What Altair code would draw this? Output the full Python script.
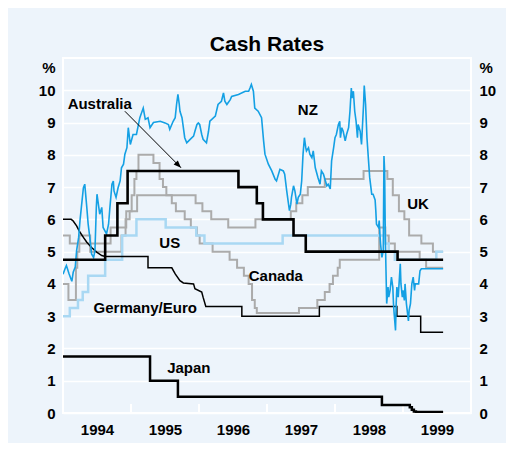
import altair as alt
import pandas as pd

# ---------------- data (decimal years, per cent) ----------------
aus_t = [1994.0, 1994.62, 1994.80, 1994.95, 1996.58, 1996.85, 1996.94, 1997.39, 1997.57, 1998.92, 1999.59]
aus_v = [4.75, 5.5, 6.5, 7.5, 7.0, 6.5, 6.0, 5.5, 5.0, 4.75, 4.75]

us_t = [1994.0, 1994.10, 1994.22, 1994.29, 1994.37, 1994.62, 1994.87, 1995.08, 1995.51, 1995.96,
        1996.08, 1997.23, 1998.74, 1998.79, 1998.88, 1999.49, 1999.59]
us_v = [3.0, 3.25, 3.5, 3.75, 4.25, 4.75, 5.5, 6.0, 5.75, 5.5,
        5.25, 5.5, 5.25, 5.0, 4.75, 5.0, 5.0]

uk_t = [1994.0, 1994.10, 1994.70, 1994.93, 1995.09, 1995.95, 1996.05, 1996.18, 1996.43, 1996.83,
        1997.35, 1997.43, 1997.52, 1997.60, 1997.85, 1998.42, 1998.77, 1998.85, 1998.94, 1999.02,
        1999.09, 1999.27, 1999.44, 1999.59]
uk_v = [5.5, 5.25, 5.75, 6.25, 6.75, 6.5, 6.25, 6.0, 5.75, 6.0,
        6.25, 6.5, 6.75, 7.0, 7.25, 7.5, 7.25, 6.75, 6.25, 6.0,
        5.5, 5.25, 5.0, 5.0]

can_t = [1994.0, 1994.08, 1994.19, 1994.21, 1994.24, 1994.40, 1994.86, 1994.92, 1994.98, 1995.01,
         1995.05, 1995.08, 1995.11, 1995.33, 1995.42, 1995.47, 1995.52, 1995.60, 1995.66, 1995.79,
         1995.88, 1995.97, 1996.01, 1996.20, 1996.45, 1996.56, 1996.66, 1996.73, 1996.78, 1996.82,
         1996.85, 1997.47, 1997.74, 1997.85, 1997.92, 1997.97, 1998.04, 1998.07, 1998.65, 1998.74,
         1998.79, 1998.88, 1999.245, 1999.34, 1999.59]
can_v = [4.0, 3.5, 4.5, 5.0, 5.5, 5.0, 5.5, 6.0, 6.25, 6.75,
         7.25, 7.5, 8.0, 7.75, 7.25, 7.0, 6.75, 6.5, 6.25, 6.0,
         5.75, 5.5, 5.25, 5.0, 4.75, 4.5, 4.25, 4.0, 3.5, 3.25,
         3.1, 3.25, 3.5, 3.75, 4.0, 4.25, 4.5, 4.75, 5.75, 5.5,
         5.25, 5.0, 4.75, 4.5, 4.5]

jpn_t = [1994.0, 1995.28, 1995.69, 1998.69, 1999.10, 1999.13, 1999.16, 1999.19, 1999.59]
jpn_v = [1.75, 1.0, 0.5, 0.25, 0.18, 0.10, 0.05, 0.03, 0.03]

ger_t = [1994.0, 1994.12, 1994.15, 1994.20, 1994.25, 1994.30, 1994.35, 1994.42, 1994.50, 1994.57,
         1994.62, 1995.25, 1995.25, 1995.60, 1995.65, 1995.72, 1995.77, 1995.92, 1995.94, 1996.04,
         1996.06, 1996.10, 1996.63, 1996.63, 1997.77, 1997.77, 1998.91, 1998.91, 1999.26, 1999.26,
         1999.59]
ger_v = [6.0, 6.0, 5.95, 5.8, 5.6, 5.44, 5.29, 5.13, 4.98, 4.88,
         4.85, 4.85, 4.5, 4.5, 4.31, 4.1, 4.03, 4.0, 3.85, 3.75,
         3.59, 3.3, 3.3, 3.0, 3.0, 3.3, 3.3, 3.0, 3.0, 2.5,
         2.5]

nz_t = [1994.00, 1994.03, 1994.05, 1994.09, 1994.13, 1994.15, 1994.18, 1994.20, 1994.23, 1994.25,
        1994.27, 1994.30, 1994.32, 1994.35, 1994.37, 1994.40, 1994.42, 1994.45, 1994.47, 1994.49,
        1994.50, 1994.52, 1994.54, 1994.57, 1994.59, 1994.64, 1994.67, 1994.69, 1994.72, 1994.74,
        1994.75, 1994.78, 1994.81, 1994.84, 1994.86, 1994.89, 1994.91, 1994.94, 1994.96, 1994.99,
        1995.03, 1995.08, 1995.13, 1995.18, 1995.21, 1995.25, 1995.28, 1995.33, 1995.43, 1995.50,
        1995.55, 1995.57, 1995.62, 1995.65, 1995.67, 1995.69, 1995.71, 1995.72, 1995.75, 1995.77,
        1995.79, 1995.82, 1995.87, 1995.92, 1995.94, 1995.97, 1995.99, 1996.01, 1996.04, 1996.06,
        1996.11, 1996.14, 1996.16, 1996.24, 1996.28, 1996.33, 1996.36, 1996.38, 1996.41, 1996.46,
        1996.48, 1996.58, 1996.68, 1996.73, 1996.75, 1996.77, 1996.80, 1996.82, 1996.87, 1996.92,
        1996.95, 1996.97, 1997.02, 1997.07, 1997.12, 1997.14, 1997.19, 1997.24, 1997.26, 1997.29,
        1997.31, 1997.33, 1997.35, 1997.36, 1997.39, 1997.41, 1997.44, 1997.46, 1997.49, 1997.51,
        1997.53, 1997.55, 1997.57, 1997.58, 1997.61, 1997.63, 1997.66, 1997.68, 1997.71, 1997.75,
        1997.78, 1997.80, 1997.83, 1997.88, 1997.90, 1997.93, 1997.95, 1997.98, 1998.00, 1998.02,
        1998.05, 1998.07, 1998.08, 1998.10, 1998.12, 1998.15, 1998.17, 1998.20, 1998.22, 1998.24,
        1998.25, 1998.27, 1998.29, 1998.31, 1998.33, 1998.34, 1998.37, 1998.39, 1998.42, 1998.43,
        1998.45, 1998.47, 1998.49, 1998.51, 1998.54, 1998.56, 1998.59, 1998.60, 1998.61, 1998.64,
        1998.65, 1998.66, 1998.67, 1998.69, 1998.71, 1998.72, 1998.73, 1998.74, 1998.75, 1998.76,
        1998.78, 1998.79, 1998.81, 1998.83, 1998.85, 1998.86, 1998.87, 1998.89, 1998.90, 1998.91,
        1998.93, 1998.96, 1998.97, 1998.99, 1999.00, 1999.02, 1999.03, 1999.05, 1999.08, 1999.09,
        1999.11, 1999.13, 1999.15, 1999.17, 1999.18, 1999.23, 1999.25, 1999.27, 1999.59]
nz_v = [4.3, 4.47, 4.57, 4.31, 4.08, 4.36, 4.52, 5.03, 5.44, 5.96,
        6.37, 6.98, 7.09, 6.37, 5.85, 5.34, 4.93, 4.82, 5.03, 6.37,
        6.78, 6.47, 6.16, 6.37, 5.75, 5.55, 5.85, 6.37, 7.09, 7.19,
        6.88, 6.68, 6.98, 7.19, 7.6, 7.71, 8.02, 8.22, 8.84, 8.32,
        8.63, 8.63, 9.15, 9.45, 9.1, 9.15, 8.84, 9.0, 9.04, 8.99,
        8.94, 8.79, 9.04, 9.15, 9.56, 9.87, 9.56, 9.35, 9.15, 8.84,
        8.53, 8.37, 8.48, 8.58, 8.73, 8.94, 8.99, 8.94, 8.63, 8.48,
        8.37, 8.73, 9.04, 9.2, 9.56, 9.66, 9.92, 9.66, 9.56, 9.71,
        9.81, 9.87, 9.97, 9.97, 10.07, 10.18, 9.97, 9.45, 9.35, 9.15,
        8.43, 8.02, 7.71, 7.5, 7.24, 7.19, 7.55, 7.5, 7.4, 6.88,
        6.57, 6.27, 6.47, 6.68, 7.04, 6.88, 6.47, 6.68, 6.78, 7.19,
        8.02, 8.53, 8.22, 8.12, 8.22, 8.02, 7.91, 8.12, 7.6, 7.29,
        7.09, 7.5, 7.4, 7.04, 7.09, 6.94, 7.81, 8.22, 8.53, 8.63,
        8.94, 9.04, 8.53, 8.84, 8.73, 8.43, 8.63, 8.84, 9.35, 10.07,
        9.76, 9.97, 9.35, 9.04, 8.53, 8.94, 8.73, 8.32, 9.56, 10.15,
        9.56, 8.53, 7.91, 7.3, 6.78, 6.78, 6.6, 6.27, 5.85, 5.75,
        5.96, 5.55, 5.24, 4.82, 5.03, 7.96, 7.5, 5.44, 4.41, 3.39,
        3.9, 3.59, 3.8, 4.21, 3.9, 3.39, 3.08, 2.56, 3.39, 3.9,
        3.59, 4.62, 4.0, 3.59, 3.8, 3.49, 4.0, 3.39, 2.85, 3.18,
        3.39, 4.0, 4.21, 3.8, 4.0, 4.0, 4.41, 4.47, 4.47]

label_text = ["Australia", "NZ", "UK", "US", "Canada", "Germany/Euro", "Japan"]
label_t = [1994.54, 1997.60, 1999.22, 1995.57, 1997.13, 1995.21, 1995.85]
label_v = [9.58, 9.38, 6.48, 5.26, 4.26, 3.26, 1.40]

arrow_t = [1994.91, 1995.735]
arrow_v = [9.35, 7.60]

y_ticks = [0, 1, 2, 3, 4, 5, 6, 7, 8, 9, 10]
year_mid = [1994.5, 1995.5, 1996.5, 1997.5, 1998.5, 1999.5]
year_bounds = [1995, 1996, 1997, 1998, 1999]

# ---------------- styling ----------------
FONT = "Liberation Sans"
BG = "#EDF4FB"
NZ_C = "#14A0E4"
US_C = "#A9D8F3"
GREY = "#ABABAB"

xsc = alt.Scale(domain=[1994, 2000], nice=False, zero=False)
ysc = alt.Scale(domain=[0, 11], nice=False, zero=False)


def series(t, v, color, width, interp):
    df = pd.DataFrame({"t": t, "v": v, "i": list(range(len(t)))})
    return alt.Chart(df).mark_line(
        color=color, strokeWidth=width, interpolate=interp, clip=True, strokeJoin="miter"
    ).encode(
        x=alt.X("t:Q", scale=xsc, axis=None),
        y=alt.Y("v:Q", scale=ysc, axis=None),
        order=alt.Order("i:Q"),
    )


ax_common = dict(
    values=y_ticks, labelFont=FONT, labelFontSize=15, labelFontWeight="bold",
    labelColor="black", ticks=False, domain=False, labelPadding=8,
    title="%", titleFont=FONT, titleFontSize=15, titleFontWeight="bold",
    titleAngle=0, titleBaseline="middle", titleY=9, titleColor="black",
)

ydf = pd.DataFrame({"v": y_ticks})
left_axis = alt.Chart(ydf).mark_point(opacity=0).encode(
    x=alt.value(0),
    y=alt.Y("v:Q", scale=ysc, axis=alt.Axis(orient="left", grid=True, gridColor="white",
                                              gridWidth=1.5, titleAlign="right", titleX=-8,
                                              **ax_common)),
)
right_axis = alt.Chart(ydf).mark_point(opacity=0).encode(
    x=alt.value(0),
    y=alt.Y("v:Q", scale=ysc, axis=alt.Axis(orient="right", grid=False, titleAlign="left",
                                              titleX=8, **ax_common)),
)

xdf = pd.DataFrame({"t": year_mid, "v": [0] * len(year_mid)})
x_axis = alt.Chart(xdf).mark_point(opacity=0).encode(
    x=alt.X("t:Q", scale=xsc, axis=alt.Axis(values=year_mid, labelExpr="floor(datum.value)",
                                             labelFont=FONT, labelFontSize=15, labelFontWeight="bold",
                                             labelColor="black", ticks=False, domain=False, grid=False,
                                             labelPadding=9, title=None)),
    y=alt.Y("v:Q", scale=ysc, axis=None),
)

tdf = pd.DataFrame({"t": year_bounds, "y0": [0] * len(year_bounds), "y1": [0.28] * len(year_bounds)})
x_ticks = alt.Chart(tdf).mark_rule(color="white", strokeWidth=2).encode(
    x=alt.X("t:Q", scale=xsc, axis=None),
    y=alt.Y("y0:Q", scale=ysc, axis=None),
    y2="y1:Q",
)

ldf = pd.DataFrame({"label": label_text, "t": label_t, "v": label_v})
labels = alt.Chart(ldf).mark_text(font=FONT, fontSize=15, fontWeight="bold", color="black",
                                   align="center", baseline="middle").encode(
    x=alt.X("t:Q", scale=xsc, axis=None),
    y=alt.Y("v:Q", scale=ysc, axis=None),
    text="label:N",
)

adf = pd.DataFrame({"t": [arrow_t[0]], "v": [arrow_v[0]], "t2": [arrow_t[1]], "v2": [arrow_v[1]]})
arrow_line = alt.Chart(adf).mark_rule(color="black", strokeWidth=1).encode(
    x=alt.X("t:Q", scale=xsc, axis=None),
    y=alt.Y("v:Q", scale=ysc, axis=None),
    x2="t2:Q", y2="v2:Q",
)
hdf = pd.DataFrame({"t": [arrow_t[1]], "v": [arrow_v[1]]})
arrow_head = alt.Chart(hdf).mark_point(
    shape="M0,0 L-0.4,-1 L0.4,-1 Z", filled=True, color="black", size=220, angle=315, opacity=1
).encode(
    x=alt.X("t:Q", scale=xsc, axis=None),
    y=alt.Y("v:Q", scale=ysc, axis=None),
)

chart = alt.layer(
    left_axis, right_axis, x_axis, x_ticks,
    series(uk_t, uk_v, GREY, 2, "step-after"),
    series(can_t, can_v, GREY, 2, "step-after"),
    series(us_t, us_v, US_C, 2.5, "step-after"),
    series(ger_t, ger_v, "black", 1.5, "linear"),
    series(jpn_t, jpn_v, "black", 2.5, "step-after"),
    series(nz_t, nz_v, NZ_C, 1.6, "linear"),
    series(aus_t, aus_v, "black", 2.6, "step-after"),
    labels, arrow_line, arrow_head,
).resolve_scale(
    x="independent", y="independent"
).properties(
    width=408, height=355,
    background=BG,
    padding={"left": 55, "top": 50, "right": 35, "bottom": 30},
    autosize=alt.AutoSizeParams(type="none"),
    title=alt.TitleParams("Cash Rates", font=FONT, fontSize=21, fontWeight="bold", color="black",
                          anchor="middle", offset=8, baseline="alphabetic", dy=22),
).configure_view(stroke="white", strokeWidth=2)

chart.save("out.html", embed_options={"renderer": "svg", "actions": False})
